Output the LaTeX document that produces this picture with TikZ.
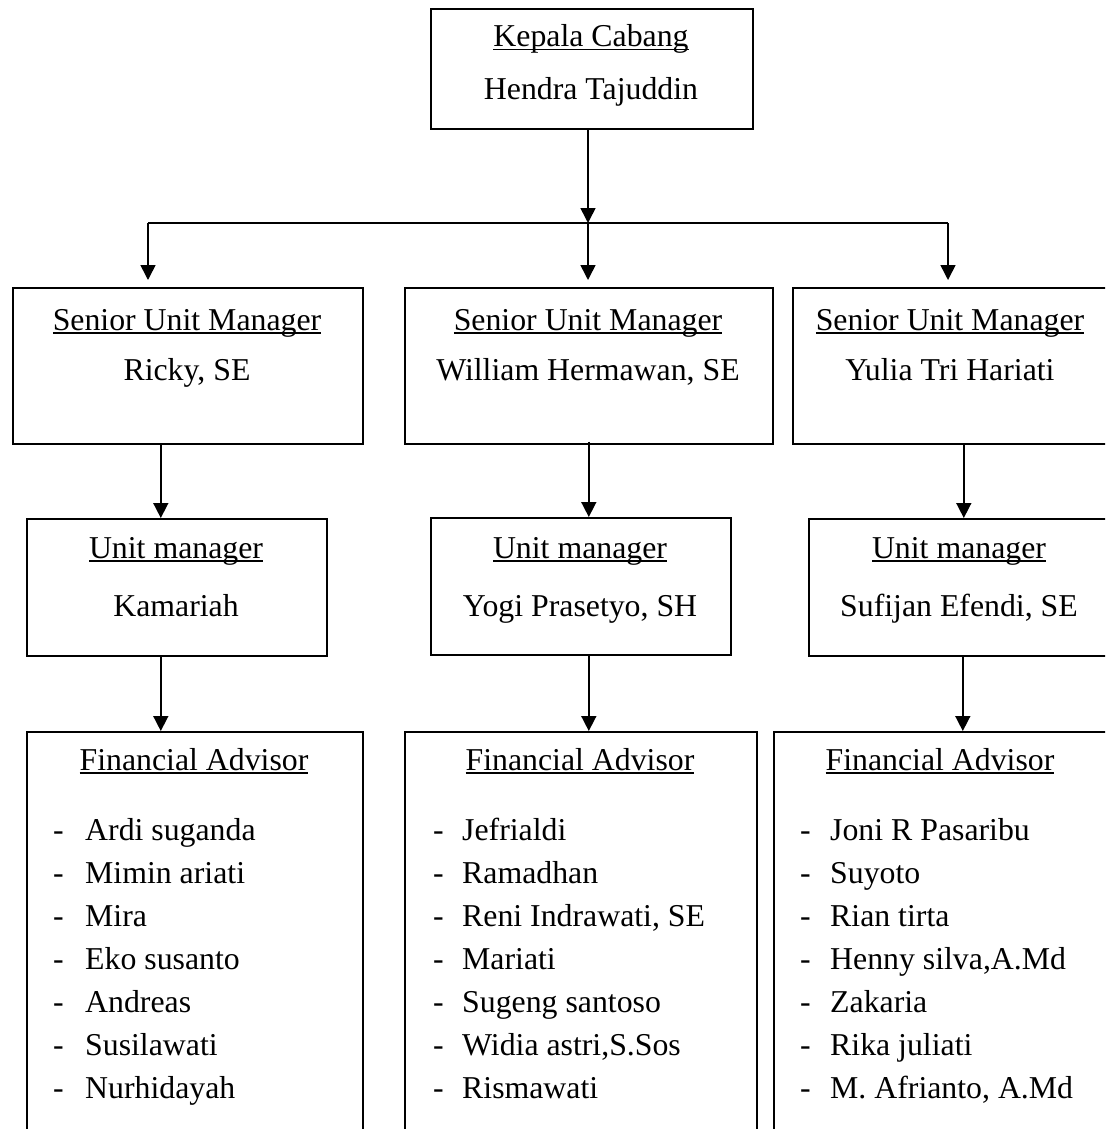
\documentclass[tikz,border=0pt]{standalone}
\usepackage{fontspec}
\setmainfont{Liberation Serif}
\usetikzlibrary{arrows.meta,positioning,calc}
\newcommand{\undertitle}[1]{\setbox0\hbox{#1}\rlap{\rule[-3.5pt]{\wd0}{1.8pt}}\box0}

\begin{document}
\begin{tikzpicture}[
    box/.style={draw, line width=1.6pt, inner sep=0pt, anchor=north west},
    lbl/.style={font=\fontsize{31.8pt}{38pt}\selectfont, inner sep=0pt, anchor=base},
    member/.style={font=\fontsize{31.8pt}{38pt}\selectfont, inner sep=0pt, anchor=base west},
    link/.style={line width=1.6pt},
    arr/.style={line width=1.6pt, -{Triangle[length=15pt,width=15pt]}}
  ]
    \useasboundingbox (0,0) rectangle (1105pt,-1129pt);
    \clip (0,0) rectangle (1105pt,-1129pt);

    % boxes
    \node[box, minimum width=322pt, minimum height=120pt] (kc) at (430pt,-8pt) {};
    \node[box, minimum width=350pt, minimum height=156pt] (sum1) at (12pt,-287pt) {};
    \node[box, minimum width=368pt, minimum height=156pt] (sum2) at (404pt,-287pt) {};
    \node[box, minimum width=316pt, minimum height=156pt] (sum3) at (792pt,-287pt) {};
    \node[box, minimum width=300pt, minimum height=137pt] (um1) at (26pt,-518pt) {};
    \node[box, minimum width=300pt, minimum height=137pt] (um2) at (430pt,-517pt) {};
    \node[box, minimum width=302pt, minimum height=137pt] (um3) at (808pt,-518pt) {};
    \node[box, minimum width=336pt, minimum height=420pt] (fa1) at (26pt,-731pt) {};
    \node[box, minimum width=352pt, minimum height=420pt] (fa2) at (404pt,-731pt) {};
    \node[box, minimum width=337pt, minimum height=420pt] (fa3) at (773pt,-731pt) {};

    % texts
    \node[lbl] (kc-t) at (591pt,-47pt) {\undertitle{Kepala Cabang}};
    \node[lbl] (kc-n) at (591pt,-100pt) {Hendra Tajuddin};
    \node[lbl] (sum1-t) at (187pt,-330pt) {\undertitle{Senior Unit Manager}};
    \node[lbl] (sum1-n) at (187pt,-380pt) {Ricky, SE};
    \node[lbl] (sum2-t) at (588pt,-330pt) {\undertitle{Senior Unit Manager}};
    \node[lbl] (sum2-n) at (588pt,-380pt) {William Hermawan, SE};
    \node[lbl] (sum3-t) at (950pt,-330pt) {\undertitle{Senior Unit Manager}};
    \node[lbl] (sum3-n) at (950pt,-380pt) {Yulia Tri Hariati};
    \node[lbl] (um1-t) at (176pt,-558pt) {\undertitle{Unit manager}};
    \node[lbl] (um1-n) at (176pt,-616pt) {Kamariah};
    \node[lbl] (um2-t) at (580pt,-558pt) {\undertitle{Unit manager}};
    \node[lbl] (um2-n) at (580pt,-616pt) {Yogi Prasetyo, SH};
    \node[lbl] (um3-t) at (959pt,-558pt) {\undertitle{Unit manager}};
    \node[lbl] (um3-n) at (959pt,-616pt) {Sufijan Efendi, SE};
    \node[lbl] (fa1-t) at (194pt,-770pt) {\undertitle{Financial Advisor}};
    \node[lbl] (fa2-t) at (580pt,-770pt) {\undertitle{Financial Advisor}};
    \node[lbl] (fa3-t) at (940pt,-770pt) {\undertitle{Financial Advisor}};

    \foreach \who [count=\i] in {Ardi suganda, Mimin ariati, Mira, Eko susanto, Andreas, Susilawati, Nurhidayah} {
      \node[member] (fa1-d\i) at (53pt,{-840pt-43pt*(\i-1)}) {-};
      \node[member] (fa1-n\i) at (85pt,{-840pt-43pt*(\i-1)}) {\who};
    }
    \foreach \who [count=\i] in {Jefrialdi, Ramadhan, {Reni Indrawati, SE}, Mariati, Sugeng santoso, {Widia astri,S.Sos}, Rismawati} {
      \node[member] (fa2-d\i) at (433pt,{-840pt-43pt*(\i-1)}) {-};
      \node[member] (fa2-n\i) at (462pt,{-840pt-43pt*(\i-1)}) {\who};
    }
    \foreach \who [count=\i] in {Joni R Pasaribu, Suyoto, Rian tirta, {Henny silva,A.Md}, Zakaria, Rika juliati, {M. Afrianto, A.Md}} {
      \node[member] (fa3-d\i) at (800pt,{-840pt-43pt*(\i-1)}) {-};
      \node[member] (fa3-n\i) at (830pt,{-840pt-43pt*(\i-1)}) {\who};
    }

    % connectors
    \coordinate (split) at (588pt,-223pt);
    \coordinate (splitL) at (148pt,-223pt);
    \coordinate (splitR) at (948pt,-223pt);
    \draw[arr] (kc.south -| split) -- (split);
    \draw[link] (splitL) -- (splitR);
    \draw[arr] (splitL) -- ([yshift=7pt]sum1.north -| splitL);
    \draw[arr] (split) -- ([yshift=7pt]sum2.north -| split);
    \draw[arr] (splitR) -- ([yshift=7pt]sum3.north -| splitR);

    \draw[arr] ([xshift=-27pt]sum1.south) -- ([xshift=-27pt]sum1.south |- um1.north);
    \draw[arr] ([yshift=3pt]sum2.south) -- (sum2.south |- um2.north);
    \draw[arr] ([xshift=13pt]sum3.south) -- ([xshift=13pt]sum3.south |- um3.north);

    \draw[arr] ([xshift=-16pt]um1.south) -- ([xshift=-16pt]um1.south |- fa1.north);
    \draw[arr] ([xshift=8pt]um2.south) -- ([xshift=8pt]um2.south |- fa2.north);
    \draw[arr] ([xshift=3pt]um3.south) -- ([xshift=3pt]um3.south |- fa3.north);
  \end{tikzpicture}
\end{document}
